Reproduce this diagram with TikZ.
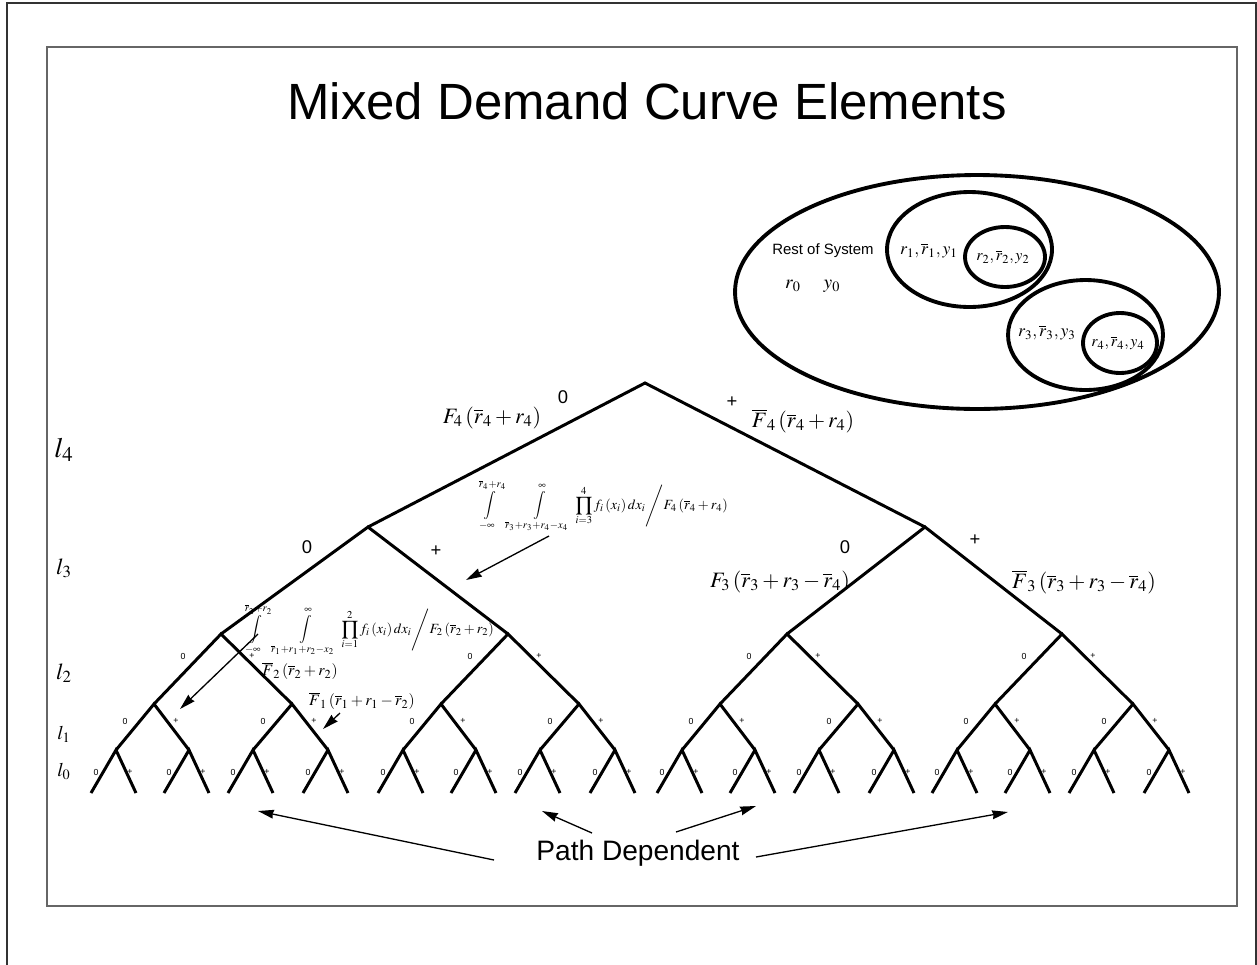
\documentclass[tikz,border=0pt]{standalone}
\usepackage{mathptmx}
\usepackage[no-math]{fontspec}
\setmainfont{Liberation Sans}
\usetikzlibrary{arrows.meta}

\begin{document}
\begin{tikzpicture}[x=0.02cm,y=-0.02cm,
    branch/.style={line width=1.7pt},
    ring/.style={line width=2.2pt},
    ptr/.style={line width=0.75pt,-{Stealth[length=9pt,width=5pt,inset=0.6pt]}},
    bigsign/.style={font=\fontsize{10.5}{12}\selectfont,inner sep=0pt},
    tinysign/.style={font=\fontsize{5}{6}\selectfont,inner sep=0pt},
    mlab/.style={font=\fontsize{12.5}{14}\selectfont,inner sep=0pt},
    slab/.style={font=\fontsize{9}{10}\selectfont,inner sep=0pt},
    ilab/.style={font=\fontsize{8}{9}\selectfont,inner sep=0pt}]
  \useasboundingbox (0,0) rectangle (1257,964);
  % frames
  \draw[black!80,line width=0.9pt] (7,980) -- (7,3) -- (1256,3) -- (1256,980);
  \draw[black!60,line width=0.6pt] (47,47) rectangle (1237,906);
  \node[font=\fontsize{29}{32}\selectfont] (title) at (647,101) {Mixed Demand Curve Elements};

  % nested subsystems
  \draw[ring] (977,292) ellipse [x radius=4.84cm, y radius=2.34cm];
  \draw[ring] (969.5,249.5) ellipse [x radius=1.65cm, y radius=1.15cm];
  \draw[ring] (1005,257) ellipse [x radius=0.8cm, y radius=0.6cm];
  \draw[ring] (1085.5,335) ellipse [x radius=1.55cm, y radius=1.1cm];
  \draw[ring] (1120,343) ellipse [x radius=0.74cm, y radius=0.6cm];
  \node[font=\fontsize{8.5}{10}\selectfont] (rest) at (823,251) {Rest of System};
  \node[font=\fontsize{11}{12}\selectfont] (r0) at (793,286) {$r_0$};
  \node[font=\fontsize{11}{12}\selectfont] (y0) at (832,286) {$y_0$};
  \node[font=\fontsize{10}{12}\selectfont] (g1) at (929,251) {$r_1,\overline{r}_1,y_1$};
  \node[font=\fontsize{9}{10}\selectfont] (g2) at (1003,257) {$r_2,\overline{r}_2,y_2$};
  \node[font=\fontsize{10}{12}\selectfont] (g3) at (1047,333) {$r_3,\overline{r}_3,y_3$};
  \node[font=\fontsize{9}{10}\selectfont] (g4) at (1118,343) {$r_4,\overline{r}_4,y_4$};

  % levels
  \node[font=\fontsize{16}{18}\selectfont] (l4) at (64,450) {$l_4$};
  \node[font=\fontsize{13}{14}\selectfont] (l3) at (64,568) {$l_3$};
  \node[font=\fontsize{13}{14}\selectfont] (l2) at (64,673) {$l_2$};
  \node[font=\fontsize{11}{12}\selectfont] (l1) at (64,734) {$l_1$};
  \node[font=\fontsize{11}{12}\selectfont] (l0) at (64,771) {$l_0$};

  % upper tree
  \coordinate (top) at (645,383);
  \coordinate (m0) at (368,527);
  \coordinate (m1) at (925,527);
  \draw[branch] (m0) -- (top) -- (m1);
  \node[bigsign] (s0) at (563,397) {0};
  \node[bigsign] (s1) at (732,402) {+};
  \node[bigsign] (s00) at (307,547) {0};
  \node[bigsign] (s01) at (436,551) {+};
  \node[bigsign] (s10) at (845,547) {0};
  \node[bigsign] (s11) at (975,540) {+};

  % four lower subtrees
  \foreach \n/\x in {a/221,b/508,c/787,d/1062}{
    \coordinate (\n) at (\x,634);
    \coordinate (\n0) at (\x-67,704);
    \coordinate (\n1) at (\x+71,704);
    \draw[branch] (\n0) -- (\n) -- (\n1);
    \node[tinysign] (z\n) at (\x-38,656) {0};
    \node[tinysign] (p\n) at (\x+31,656) {+};
    \foreach \d/\s in {-105/00,-32/01,32/10,107/11}{
      \coordinate (\n\s) at (\x+\d,750);
      \draw[branch] ([shift={(-25,43)}]\n\s) -- (\n\s) -- ++(20,43);
      \node[tinysign] (z\n\s) at (\x+\d-20,772) {0};
      \node[tinysign] (p\n\s) at (\x+\d+14,772) {+};
    }
    \foreach \d/\s in {-67/0,71/1}{
      \draw[branch] (\n\s0) -- (\n\s) -- (\n\s1);
      \node[tinysign] (z\n\s) at (\x+\d-29,721) {0};
      \node[tinysign] (p\n\s) at (\x+\d+22,721) {+};
    }
  }
  \draw[branch] (a) -- (m0) -- (b);
  \draw[branch] (c) -- (m1) -- (d);

  % probabilities
  \node[mlab] (f4) at (492,418) {$F_4\left(\overline{r}_4+r_4\right)$};
  \node[mlab] (fb4) at (803,421) {$\overline{F}_4\left(\overline{r}_4+r_4\right)$};
  \node[mlab] (f3) at (780,582) {$F_3\left(\overline{r}_3+r_3-\overline{r}_4\right)$};
  \node[mlab] (fb3) at (1084,582) {$\overline{F}_3\left(\overline{r}_3+r_3-\overline{r}_4\right)$};
  \node[slab] (fb2) at (300,671) {$\overline{F}_2\left(\overline{r}_2+r_2\right)$};
  \node[slab] (fb1) at (362,701) {$\overline{F}_1\left(\overline{r}_1+r_1-\overline{r}_2\right)$};
  \node[ilab] (int4) at (602,506) {$\displaystyle\int\limits_{-\infty}^{\overline{r}_4+r_4}\;\int\limits_{\overline{r}_3+r_3+r_4-x_4}^{\infty}\;\prod_{i=3}^{4}f_i\left(x_i\right)dx_i\Bigg/F_4\left(\overline{r}_4+r_4\right)$};
  \node[ilab] (int2) at (368,630) {$\displaystyle\int\limits_{-\infty}^{\overline{r}_2+r_2}\;\int\limits_{\overline{r}_1+r_1+r_2-x_2}^{\infty}\;\prod_{i=1}^{2}f_i\left(x_i\right)dx_i\Bigg/F_2\left(\overline{r}_2+r_2\right)$};
  \coordinate (i4t) at (549,536);
  \coordinate (i4h) at (466,580);
  \coordinate (i2t) at (258,634);
  \coordinate (i2h) at (180,709);
  \coordinate (f1t) at (340,713);
  \coordinate (f1h) at (323,729);
  \draw[ptr] (i4t) -- (i4h);
  \draw[ptr] (i2t) -- (i2h);
  \draw[ptr] (f1t) -- (f1h);

  % path dependent
  \node[font=\fontsize{16}{18}\selectfont] (pd) at (638,853) {Path Dependent};
  \coordinate (pdA) at (494,860);
  \coordinate (pdB) at (592,833);
  \coordinate (pdC) at (676,832);
  \coordinate (pdD) at (756,857);
  \coordinate (hA) at (258,811);
  \coordinate (hB) at (542,811);
  \coordinate (hC) at (756,806);
  \coordinate (hD) at (1008,812);
  \draw[ptr] (pdA) -- (hA);
  \draw[ptr] (pdB) -- (hB);
  \draw[ptr] (pdC) -- (hC);
  \draw[ptr] (pdD) -- (hD);
\end{tikzpicture}
\end{document}
